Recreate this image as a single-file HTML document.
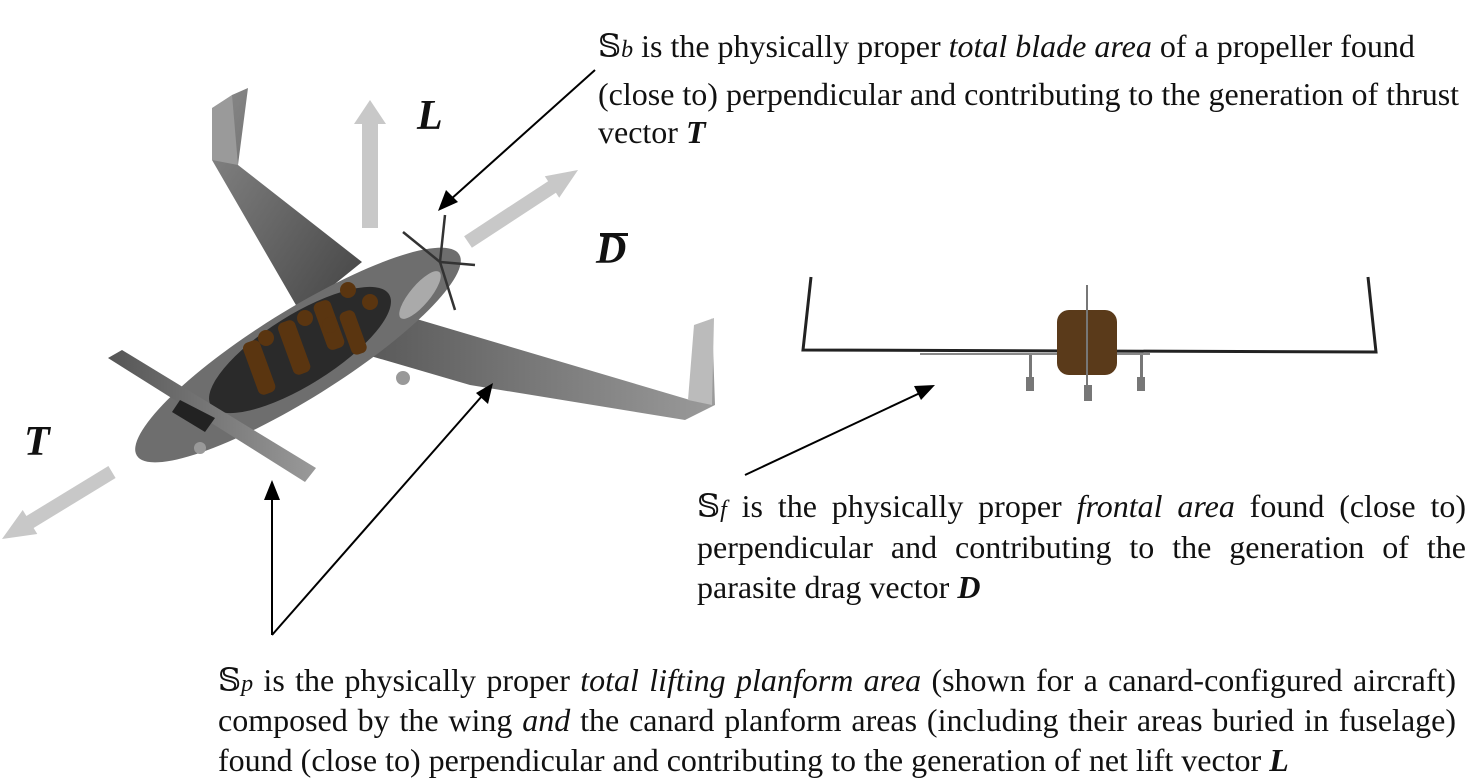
<!DOCTYPE html>
<html><head><meta charset="utf-8">
<style>
body{margin:0;width:1476px;height:784px;background:#fff;position:relative;overflow:hidden;font-family:"Liberation Serif","DejaVu Serif",serif;color:#111}
.t{position:absolute;font-size:32px;line-height:40px;white-space:nowrap}
.j{text-align:justify;text-align-last:justify;white-space:normal}
.big{position:absolute;font-weight:bold;font-style:italic;font-size:42px}
svg{position:absolute;left:0;top:0}
</style></head><body>
<svg width="1476" height="784" viewBox="0 0 1476 784">
<defs>
<linearGradient id="g1" x1="0" y1="0" x2="1" y2="1"><stop offset="0" stop-color="#8a8a8a"/><stop offset="1" stop-color="#444"/></linearGradient>
<linearGradient id="g2" x1="0" y1="0" x2="1" y2="0"><stop offset="0" stop-color="#555"/><stop offset="1" stop-color="#9a9a9a"/></linearGradient>
</defs>
<polygon points="212,160 232,95 248,88 238,165 362,262 300,312" fill="url(#g1)"/>
<polygon points="212,160 238,165 232,95 212,108" fill="#9a9a9a"/>
<polygon points="345,300 420,320 690,400 712,318 715,405 685,420 470,385 350,350" fill="url(#g2)"/>
<polygon points="688,400 694,325 714,318 712,405" fill="#bbb"/>
<ellipse cx="298" cy="355" rx="190" ry="44" transform="rotate(-32 298 355)" fill="#6e6e6e"/>
<ellipse cx="300" cy="350" rx="105" ry="35" transform="rotate(-32 300 350)" fill="#2a2a2a"/>
<g fill="#5a3510">
<rect x="250" y="340" width="18" height="55" rx="6" transform="rotate(-20 259 367)"/>
<circle cx="266" cy="338" r="8"/>
<rect x="285" y="320" width="18" height="55" rx="6" transform="rotate(-20 294 347)"/>
<circle cx="305" cy="318" r="8"/>
<rect x="320" y="300" width="18" height="50" rx="6" transform="rotate(-20 329 325)"/>
<circle cx="348" cy="290" r="8"/>
<rect x="345" y="310" width="16" height="45" rx="6" transform="rotate(-20 353 332)"/>
<circle cx="330" cy="325" r="8"/>
<circle cx="370" cy="302" r="8"/>
</g>
<polygon points="108,358 122,350 316,468 305,482" fill="url(#g2)"/>
<polygon points="180,400 215,418 205,432 172,412" fill="#222"/>
<ellipse cx="420" cy="295" rx="30" ry="10" transform="rotate(-50 420 295)" fill="#aaa"/>
<g stroke="#333" stroke-width="2.5">
<line x1="440" y1="262" x2="445" y2="215"/><line x1="440" y1="262" x2="403" y2="232"/>
<line x1="440" y1="262" x2="475" y2="265"/><line x1="440" y1="262" x2="455" y2="310"/>
</g>
<circle cx="200" cy="448" r="6" fill="#999"/><circle cx="403" cy="378" r="7" fill="#999"/>
<g fill="#c8c8c8">
<polygon points="362,228 378,228 378,124 386,124 370,100 354,124 362,124"/>
<polygon points="471.9,247.8 464.1,236.2 548.1,181.2 544.8,176.2 578,170 559.2,197.8 555.9,192.8"/>
<polygon points="115.6,478 108.4,466 26.4,516 22.7,510 2,539 37.3,534 33.6,528"/>
</g>
<g stroke="#000" stroke-width="2" fill="none">
<line x1="595" y1="70" x2="450" y2="200"/>
<line x1="272" y1="635" x2="272" y2="495"/>
<line x1="272" y1="635" x2="482" y2="396"/>
<line x1="745" y1="475" x2="920" y2="393"/>
</g>
<g fill="#000">
<polygon points="438,211 446,190 458,202"/>
<polygon points="272,480 264,500 280,500"/>
<polygon points="493,383 476,393 488,404"/>
<polygon points="935,385 914,386 921,400"/>
</g>
<g fill="none" stroke="#222" stroke-width="3">
<path d="M811,277 L803,350 L1376,352 L1368,277"/>
</g>
<line x1="920" y1="354" x2="1150" y2="354" stroke="#888" stroke-width="2"/>
<rect x="1057" y="310" width="60" height="65" rx="12" fill="#5a3a1a"/>
<line x1="1087" y1="285" x2="1087" y2="395" stroke="#777" stroke-width="2"/>
<g fill="#777"><rect x="1029" y="355" width="3" height="22"/><rect x="1026" y="377" width="8" height="14"/>
<rect x="1140" y="355" width="3" height="22"/><rect x="1137" y="377" width="8" height="14"/>
<rect x="1084" y="385" width="8" height="16"/></g>
</svg>
<div class="big" style="left:417px;top:92px">L</div>
<div class="big" style="left:596px;top:226px">D</div>
<div style="position:absolute;left:600px;top:233px;width:28px;height:3px;background:#111"></div>
<div class="big" style="left:24px;top:418px">T</div>

<div class="t" style="left:598px;top:26px">𝕊<i style="font-size:24px">b</i> is the physically proper <i>total blade area</i> of a propeller found</div>
<div class="t" style="left:598px;top:74px">(close to) perpendicular and contributing to the generation of thrust</div>
<div class="t" style="left:598px;top:112px">vector <b><i>T</i></b></div>

<div class="t j" style="left:697px;top:486px;width:769px">𝕊<i style="font-size:24px">f</i> is the physically proper <i>frontal area</i> found (close to)</div>
<div class="t j" style="left:697px;top:527px;width:769px">perpendicular and contributing to the generation of the</div>
<div class="t" style="left:697px;top:567px">parasite drag vector <b><i>D</i></b></div>

<div class="t j" style="left:218px;top:660px;width:1238px">𝕊<i style="font-size:24px">p</i> is the physically proper <i>total lifting planform area</i> (shown for a canard-configured aircraft)</div>
<div class="t j" style="left:218px;top:700px;width:1238px">composed by the wing <i>and</i> the canard planform areas (including their areas buried in fuselage)</div>
<div class="t" style="left:218px;top:740px">found (close to) perpendicular and contributing to the generation of net lift vector <b><i>L</i></b></div>
</body></html>
